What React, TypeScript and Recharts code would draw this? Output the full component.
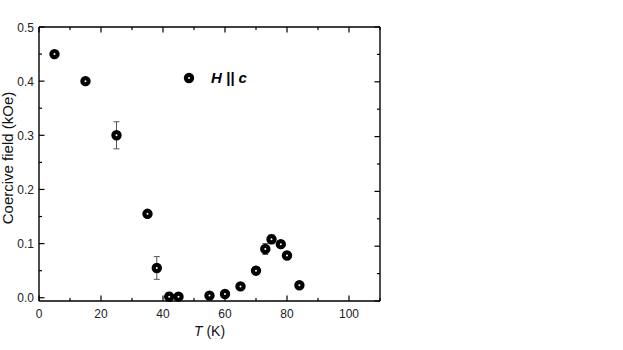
import { ScatterChart, Scatter, XAxis, YAxis, ErrorBar, Legend } from 'recharts';

// temperature (K) and coercive field (kOe)
const temps = [5, 15, 25, 35, 38, 42, 45, 55, 60, 65, 70, 73, 75, 78, 80, 84];
const fields = [0.45, 0.4, 0.3, 0.155, 0.055, 0.002, 0.002, 0.004, 0.007, 0.021, 0.05, 0.09, 0.108, 0.099, 0.078, 0.023];
const errors = [0.003, 0.003, 0.025, 0.004, 0.021, 0.008, 0.006, 0.006, 0.005, 0.004, 0.004, 0.01, 0.008, 0.006, 0.007, 0.004];

const xTicks = [0, 10, 20, 30, 40, 50, 60, 70, 80, 90, 100, 110];
const yTicks = [0, 0.05, 0.1, 0.15, 0.2, 0.25, 0.3, 0.35, 0.4, 0.45, 0.5];

const data = temps.map((t, i) => ({ t, hc: fields[i], err: errors[i] }));

const FONT = 'Arial, "Liberation Sans", sans-serif';
const AXIS = { stroke: '#000', strokeWidth: 1.4 };

const isMajorX = (v: number) => v % 20 === 0 && v <= 100;
const isMajorY = (v: number) => Math.round(v * 100) % 10 === 0;

// inward ticks; labels only on the bottom/left majors
function makeTick(side: 'bottom' | 'top' | 'left' | 'right') {
  return function Tick(props: any) {
    const { x, y, payload } = props;
    const v = payload.value as number;
    const major = side === 'bottom' || side === 'top' ? isMajorX(v) : isMajorY(v);
    const len = major ? 5.5 : 3;
    const d =
      side === 'bottom' ? `M${x},${y}V${y - len}`
      : side === 'top' ? `M${x},${y}V${y + len}`
      : side === 'left' ? `M${x},${y}H${x + len}`
      : `M${x},${y}H${x - len}`;
    return (
      <g>
        <path d={d} stroke="#000" strokeWidth={1.2} fill="none" />
        {major && side === 'bottom' && (
          <text x={x} y={y + 17} textAnchor="middle" fontSize={12} fill="#222" fontFamily={FONT}>{v}</text>
        )}
        {major && side === 'left' && (
          <text x={x - 5} y={y + 4.5} textAnchor="end" fontSize={12} fill="#222" fontFamily={FONT}>{v.toFixed(1)}</text>
        )}
      </g>
    );
  };
}

function XLabel(props: any) {
  const { x, y, width } = props.viewBox;
  return (
    <text x={x + width / 2} y={y + 35} textAnchor="middle" fontSize={14} fill="#111" fontFamily={FONT}>
      <tspan fontStyle="italic">T</tspan> (K)
    </text>
  );
}

function YLabel(props: any) {
  const { y, height } = props.viewBox;
  const cy = y + height / 2 - 6;
  return (
    <text x={13} y={cy} transform={`rotate(-90 13 ${cy})`} textAnchor="middle" fontSize={15} fill="#111" fontFamily={FONT}>
      Coercive field (kOe)
    </text>
  );
}

function Ring(props: any) {
  const { cx, cy } = props;
  return <circle cx={cx} cy={cy} r={3.1} fill="#fff" stroke="#000" strokeWidth={4.2} />;
}

function Nothing() {
  return null;
}

function LegendBox() {
  return (
    <div style={{ display: 'flex', alignItems: 'center', fontFamily: FONT }}>
      <svg width={12} height={12}>
        <circle cx={6} cy={6} r={3.1} fill="#fff" stroke="#000" strokeWidth={4.2} />
      </svg>
      <span style={{ marginLeft: 16, fontSize: 15, fontWeight: 'bold', fontStyle: 'italic', color: '#000' }}>
        H || c
      </span>
    </div>
  );
}

export default function App() {
  return (
    <div style={{ position: 'absolute', left: 0, top: 0, background: '#fff' }}>
      <ScatterChart width={623} height={350} margin={{ top: 26, right: 242, bottom: 0, left: 0 }}>
        <XAxis xAxisId="b" type="number" dataKey="t" domain={[0, 110]} ticks={xTicks} height={49}
          axisLine={AXIS} tickLine={false} tickSize={0} tickMargin={0} tick={makeTick('bottom')}
          label={<XLabel />} />
        <XAxis xAxisId="t" type="number" dataKey="t" domain={[0, 110]} ticks={xTicks} height={1}
          orientation="top" axisLine={AXIS} tickLine={false} tickSize={0} tickMargin={0} tick={makeTick('top')} />
        <YAxis yAxisId="l" type="number" dataKey="hc" domain={[0, 0.5]} ticks={yTicks} width={39}
          axisLine={AXIS} tickLine={false} tickSize={0} tickMargin={0} tick={makeTick('left')}
          label={<YLabel />} />
        <YAxis yAxisId="r" type="number" dataKey="hc" domain={[0, 0.5]} ticks={yTicks} width={1}
          orientation="right" axisLine={AXIS} tickLine={false} tickSize={0} tickMargin={0} tick={makeTick('right')} />
        <Legend verticalAlign="middle" align="center" layout="horizontal"
          wrapperStyle={{ left: 183, top: 69, width: 'auto' }} content={() => <LegendBox />} />
        {/* invisible copy so the top/right frame axes get ticks */}
        <Scatter data={data} xAxisId="t" yAxisId="r" shape={Nothing} legendType="none" isAnimationActive={false} />
        <Scatter data={data} xAxisId="b" yAxisId="l" shape={Ring} isAnimationActive={false}>
          <ErrorBar dataKey="err" direction="y" width={3} stroke="#555" strokeWidth={1} />
        </Scatter>
      </ScatterChart>
    </div>
  );
}
